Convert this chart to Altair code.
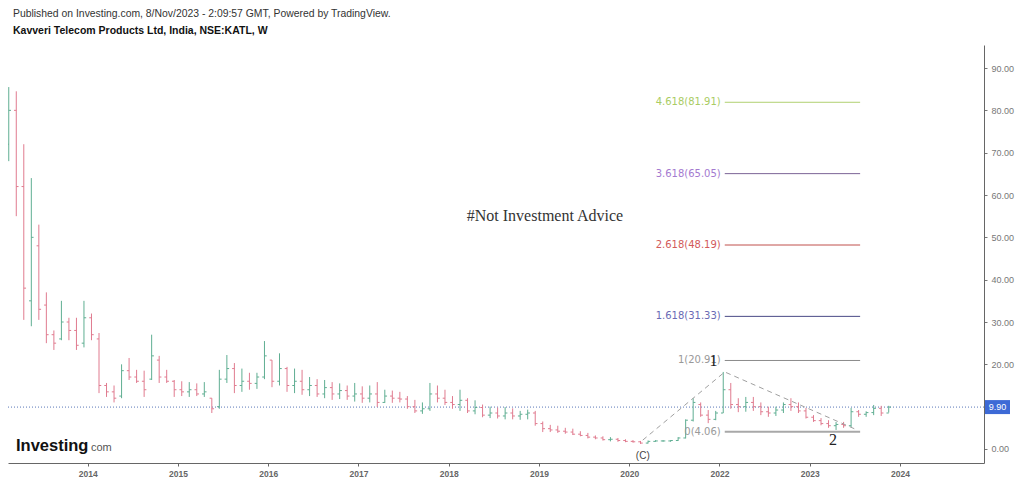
import altair as alt
import pandas as pd
import numpy as np

# ---------------- data (monthly OHLC) ----------------
opens = [72, 80, 62, 35, 48, 34, 27, 26, 30, 28, 25, 31,
         26, 15, 13.5, 12.5, 18.5, 17, 16, 16.5, 21, 17, 16, 14,
         13.5, 14, 13, 12, 10, 16.5, 19, 15, 16, 15.5, 17, 21,
         16, 19, 15, 16, 14, 15, 13, 14.5, 13, 13.8, 12.5, 13,
         12, 13, 11, 12.5, 12, 11.8, 10, 9, 9.5, 13, 12, 11,
         10.5, 11.5, 9, 9.8, 8, 8.5, 7.8, 8.5, 7.8, 8.2, 8.5, 6,
         4.8, 4.5, 4.2, 4, 3.5, 3.2, 2.8, 2.6, 2.2, 2.3, 2, 1.8,
         1.7, 1.4, 1.8, 1.9, 1.9, 2, 2.6, 6.8, 10.5, 8, 7, 8.5,
         14, 10.5, 10, 11, 10, 8.8, 8.5, 9.2, 10.5, 10, 9, 7.5,
         6.7, 6, 5.5, 5.8, 5.5, 8.8, 8.2, 8.6, 9.6, 8.5]
highs = [85.5, 84.5, 72, 64, 53, 37, 28, 35, 31, 31, 35, 32,
         27.4, 15.6, 15, 20, 21.5, 18.7, 18.5, 27, 22, 18.7, 16.3, 16,
         15.8, 15.5, 15.8, 12, 18.7, 22.2, 20.3, 19, 18, 18, 25.5, 21,
         22.6, 19.4, 19, 18.7, 17, 16.5, 16.3, 15.8, 15.5, 15, 15.6, 14.8,
         15, 15.8, 14, 13.8, 13.5, 12.5, 11.6, 11, 15.6, 15, 14, 12.5,
         14, 12, 11.5, 10.5, 10, 9.8, 9.9, 9.6, 9, 9.3, 9, 6.5,
         5.7, 5.5, 5, 4.8, 4.2, 3.8, 3.2, 3, 2.8, 2.6, 2.3, 2.1,
         1.9, 2, 2.1, 2.1, 2.1, 2.8, 7, 12, 11, 9.2, 9, 18.2,
         15.6, 12, 12.3, 12.3, 11, 10, 10, 11, 12, 11, 9.7, 8,
         7.3, 6.8, 6.4, 6.4, 9.7, 9.2, 8.9, 10.4, 10.2, 10.2]
lows = [68, 55, 30.5, 29, 30.5, 25, 23.4, 25.7, 25.7, 23.4, 24, 25.7,
        13.2, 12.3, 11, 12, 16.3, 15.6, 12.3, 16.3, 15.6, 15.6, 12.3, 12.5,
        12.3, 12.5, 12.3, 8.5, 9.5, 15.6, 13.2, 13.5, 14, 14.2, 16.5, 14.6,
        15, 13.5, 13.2, 12.8, 12.5, 12.3, 12, 11.6, 11.8, 11.6, 11.2, 10.9,
        11, 9.9, 10.9, 10.9, 11, 9.5, 8.5, 8.3, 9, 11, 10.4, 9.5,
        9, 8.5, 8.2, 7.5, 7.3, 7.2, 7, 7, 6.9, 7, 5.5, 4,
        4, 3.8, 3.6, 3.3, 3, 2.5, 2.3, 2, 1.8, 1.7, 1.6, 1.5,
        1.2, 1.3, 1.7, 1.7, 1.7, 1.9, 2.5, 6.5, 7.6, 6.1, 6.8, 8.5,
        9.5, 8.7, 8.8, 9, 8, 7.6, 7.8, 8.5, 9, 8.5, 7.2, 6.4,
        5.6, 5, 4.5, 5, 5.2, 7.6, 7.6, 8, 7.8, 8.6]
closes = [80, 62, 38, 50, 33, 27, 25, 30, 28, 24.5, 31, 27,
          15, 13.5, 12, 18.5, 17, 16, 14, 22, 17, 16, 14, 13.5,
          14, 13, 13.5, 9.5, 16.5, 19, 15, 16, 15.5, 17, 22, 16,
          19, 15, 16, 14, 15, 13, 14.5, 13, 13.8, 12.5, 13, 12,
          13, 11, 12.5, 12, 11.8, 10, 9, 9.5, 13, 12, 11, 10.5,
          11.5, 9, 9.8, 8, 8.5, 7.8, 8.5, 7.8, 8.2, 8.5, 6, 4.8,
          4.5, 4.2, 4, 3.5, 3.2, 2.8, 2.6, 2.2, 2.3, 2, 1.8, 1.7,
          1.4, 1.8, 1.9, 1.9, 2, 2.6, 6.8, 11, 8, 7, 8.5, 14,
          10.5, 10, 11, 10, 8.8, 8.5, 9.2, 10.5, 10, 9, 7.5, 6.7,
          6, 5.5, 5.8, 5.5, 8.8, 8.2, 8.6, 9.6, 8.5, 9.9]

# year ticks (bar index of first bar of each labelled year) and their labels
tick_bars = [11, 23, 35, 47, 59, 71, 83, 95, 107, 119]
tick_labels = ["2014", "2015", "2016", "2017", "2018", "2019", "2020", "2022", "2023", "2024"]

# price axis labels (10.00 is hidden behind the last-price badge)
price_ticks = [0, 20, 30, 40, 50, 60, 70, 80, 90]

# trend-based fibonacci extension
fib_ratios = ["4.618", "3.618", "2.618", "1.618", "1", "0"]
fib_values = [81.91, 65.05, 48.19, 31.33, 20.91, 4.06]
fib_line_colors = ["#b0d070", "#7c6496", "#c0504d", "#4a4a86", "#8a8a8a", "#a8a8a8"]
fib_text_colors = ["#a9cc63", "#a47ad0", "#d25a5a", "#6a6ab4", "#999999", "#9a9a9a"]
fib_widths = [1, 1, 1, 1, 1, 2]
fib_start_bar, fib_end_bar = 95.7, 113.7

# elliott wave path: (C) -> 1 -> 2
wave_bars = [84.8, 95.7, 113.3]
wave_values = [2.1, 18.2, 4.5]

last_price = 9.90

# ---------------- frames ----------------
n = len(opens)
df = pd.DataFrame({"open": opens, "high": highs, "low": lows, "close": closes})
df["bar"] = np.arange(n) + 0.5
df["bar_l"] = df["bar"] - 0.3
df["bar_r"] = df["bar"] + 0.3
df["dir"] = np.where(df["close"] >= df["open"], "up", "down")

XDOM = [0.4, 130.17]
YDOM = [-3.31, 95.44]
xs = alt.Scale(domain=XDOM, nice=False, zero=False)
ys = alt.Scale(domain=YDOM, nice=False, zero=False)
col = alt.Color("dir:N", scale=alt.Scale(domain=["up", "down"], range=["#5fae92", "#e07b8f"]), legend=None)

label_expr = "[" + ",".join("'%s'" % s for s in tick_labels) + "][indexof([" + \
    ",".join(str(v) for v in tick_bars) + "], datum.value)]"

xaxis = alt.Axis(values=tick_bars, labelExpr=label_expr, grid=False, tickSize=3, labelPadding=3,
                 labelFontSize=8.5, labelFontWeight="bold", labelColor="#666666", domainColor="#666666",
                 tickColor="#666666", labelFont="Liberation Sans", title=None)
yaxis = alt.Axis(orient="right", values=price_ticks, format=".2f", grid=False, tickSize=3,
                 labelPadding=4, labelFontSize=9, labelColor="#777777", domainColor="#666666",
                 tickColor="#777777", labelFont="Liberation Sans", title=None)

base = alt.Chart(df)
hl = base.mark_rule(strokeWidth=1).encode(
    x=alt.X("bar:Q", scale=xs, axis=xaxis),
    y=alt.Y("low:Q", scale=ys, axis=yaxis),
    y2="high:Q", color=col)
op = base.mark_rule(strokeWidth=1).encode(x=alt.X("bar_l:Q", scale=xs), x2="bar:Q",
                                          y=alt.Y("open:Q", scale=ys), color=col)
cl = base.mark_rule(strokeWidth=1).encode(x=alt.X("bar:Q", scale=xs), x2="bar_r:Q",
                                          y=alt.Y("close:Q", scale=ys), color=col)

# current price dotted line + badge
pl = alt.Chart(pd.DataFrame({"p": [last_price]})).mark_rule(
    strokeDash=[1, 2], color="#5a78b8", strokeWidth=1).encode(
    y=alt.Y("p:Q", scale=ys), x=alt.value(0), x2=alt.value(976))
badge = alt.Chart(pd.DataFrame({"p": [last_price]})).mark_rect(
    color="#3d6ad6", yOffset=-7, y2Offset=7).encode(
    y=alt.Y("p:Q", scale=ys), y2="p:Q", x=alt.value(977), x2=alt.value(1002))
badge_t = alt.Chart(pd.DataFrame({"p": [last_price], "t": ["%.2f" % last_price]})).mark_text(
    color="white", fontSize=9, font="Liberation Sans", align="center", baseline="middle").encode(
    y=alt.Y("p:Q", scale=ys), x=alt.value(989.5), text="t:N")

# fibonacci
fib = pd.DataFrame({"ratio": fib_ratios, "v": fib_values, "lc": fib_line_colors, "tc": fib_text_colors,
                    "w": fib_widths})
fib["x0"] = fib_start_bar
fib["x1"] = fib_end_bar
fib["lbl"] = fib["ratio"] + "(" + fib["v"].map(lambda v: "%.2f" % v) + ")"
fib_lines = alt.Chart(fib).mark_rule().encode(
    x=alt.X("x0:Q", scale=xs), x2="x1:Q", y=alt.Y("v:Q", scale=ys),
    color=alt.Color("lc:N", scale=None), strokeWidth=alt.StrokeWidth("w:Q", scale=None))
fib_text = alt.Chart(fib).mark_text(align="right", baseline="middle", dx=-4, fontSize=10,
                                    font="DejaVu Sans").encode(
    x=alt.X("x0:Q", scale=xs), y=alt.Y("v:Q", scale=ys), text="lbl:N",
    color=alt.Color("tc:N", scale=None))

# wave dashed path
wave = alt.Chart(pd.DataFrame({"b": wave_bars, "v": wave_values, "o": [0, 1, 2]})).mark_line(
    strokeDash=[5, 4], color="#a0a0a0", strokeWidth=1).encode(
    x=alt.X("b:Q", scale=xs), y=alt.Y("v:Q", scale=ys), order="o:Q")

# wave labels
wl = pd.DataFrame({"b": [94.2, 110.1, 84.8], "v": [20.8, 2.1, -1.7], "t": ["1", "2", "(C)"]})
wave_lbl1 = alt.Chart(wl.iloc[:2]).mark_text(baseline="middle", align="center",
                                             font="Liberation Serif", fontSize=16, color="#222222").encode(
    x=alt.X("b:Q", scale=xs), y=alt.Y("v:Q", scale=ys), text="t:N")
wave_lbl2 = alt.Chart(wl.iloc[2:]).mark_text(baseline="middle", align="center",
                                             font="Liberation Sans", fontSize=10, color="#444444").encode(
    x=alt.X("b:Q", scale=xs), y=alt.Y("v:Q", scale=ys), text="t:N")

# note
note = alt.Chart(pd.DataFrame({"b": [71.8], "v": [55.0], "t": ["#Not Investment Advice"]})).mark_text(
    font="Liberation Serif", fontSize=16, color="#333333", align="center", baseline="middle").encode(
    x=alt.X("b:Q", scale=xs), y=alt.Y("v:Q", scale=ys), text="t:N")

# header
hdr = alt.Chart(pd.DataFrame({"t": ["Published on Investing.com, 8/Nov/2023 - 2:09:57 GMT, Powered by TradingView."]})).mark_text(
    align="left", baseline="middle", fontSize=10.4, font="Liberation Sans", color="#333333").encode(
    x=alt.value(5), y=alt.value(-31), text="t:N")
hdr2 = alt.Chart(pd.DataFrame({"t": ["Kavveri Telecom Products Ltd, India, NSE:KATL, W"]})).mark_text(
    align="left", baseline="middle", fontSize=10.5, fontWeight="bold", font="Liberation Sans",
    color="#111111").encode(x=alt.value(5), y=alt.value(-14), text="t:N")

logo1 = alt.Chart(pd.DataFrame({"t": ["Investing"]})).mark_text(
    align="left", baseline="alphabetic", fontSize=16.5, fontWeight="bold", font="Liberation Sans",
    color="#111111").encode(x=alt.value(8), y=alt.value(406), text="t:N")
logo2 = alt.Chart(pd.DataFrame({"t": ["com"]})).mark_text(
    align="left", baseline="alphabetic", fontSize=11, font="Liberation Sans",
    color="#555555").encode(x=alt.value(83), y=alt.value(406), text="t:N")

chart = alt.layer(pl, hl, op, cl, fib_lines, fib_text, wave, wave_lbl1, wave_lbl2, note,
                  badge, badge_t, hdr, hdr2, logo1, logo2).properties(
    width=976, height=418,
    padding={"left": 0, "top": 37, "right": 32, "bottom": 18},
    autosize=alt.AutoSizeParams(type="none"),
    background="white",
).configure_view(stroke=None)

chart.save("out.html", embed_options={"renderer": "svg", "actions": False})
